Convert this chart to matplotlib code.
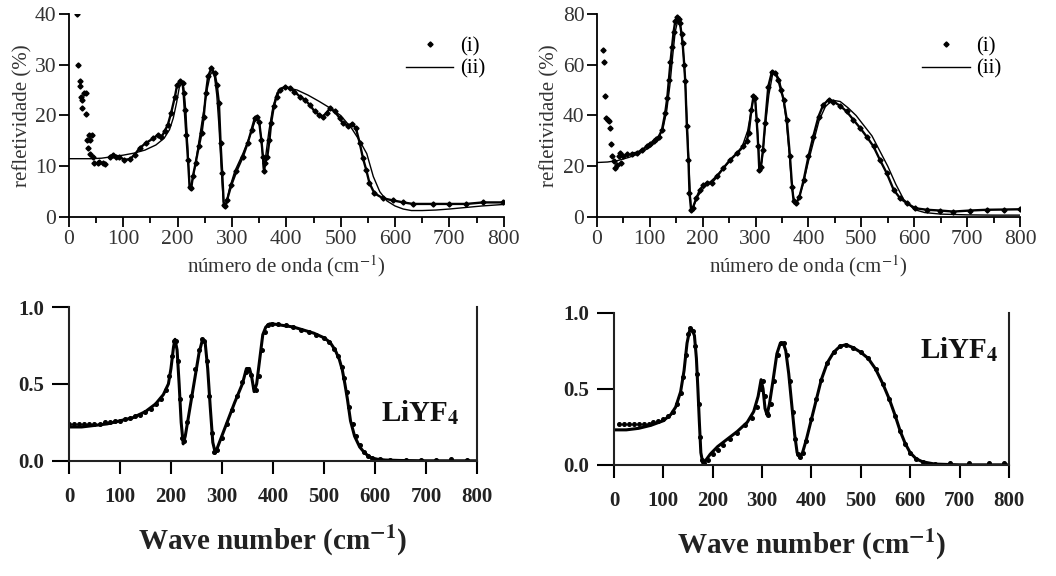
import numpy as np
import matplotlib.pyplot as plt
from matplotlib.ticker import MultipleLocator

plt.rcParams['font.family'] = ['Liberation Serif', 'DejaVu Serif']
plt.rcParams['mathtext.fontset'] = 'stix'

# top left: measured (i) and fit (ii)
tl_x_exp = [15, 16, 19.6, 21, 22, 24, 24.5, 28, 31, 32, 34, 35, 37, 38, 39, 42, 45, 47, 53, 56, 63, 67,
            75, 81, 87, 93, 102, 112, 121, 130, 142, 155, 164, 170, 176, 182, 188, 195, 199, 204, 209,
            211, 213, 216, 219, 222, 225, 228, 233, 239, 244, 248, 252, 256, 262, 268, 272, 276, 279,
            282, 285, 288, 291, 299, 308, 320, 329, 336, 342, 346, 350, 354, 357, 359, 361, 365, 369,
            372, 377, 382, 388, 397, 406, 415, 425, 434, 443, 452, 461, 467, 474, 480, 489, 498, 504,
            513, 521, 528, 535, 541, 547, 553, 562, 578, 596, 615, 633, 670, 700, 731, 762, 799]
tl_y_exp = [40, 30, 26.7, 25.8, 23.7, 23, 21.4, 24.4, 24.5, 20.3, 15.2, 13.6, 16.2, 12.5, 15.2, 16.2, 11.9,
            10.6, 10.6, 10.9, 10.6, 10.4, 11.9, 12.3, 11.9, 11.8, 11.3, 11.4, 12.3, 13.6, 14.6, 15.5, 16.2,
            15.7, 16.9, 18.2, 20.5, 23.7, 26, 26.7, 26.4, 24.4, 21.1, 16.2, 11.3, 6, 5.7, 8, 10.6, 13.9,
            16.5, 19.8, 24.4, 27.7, 29.3, 28.3, 26, 22.4, 14.6, 8.7, 2.4, 2.1, 3.4, 6.4, 9, 11.9, 14.6,
            17.2, 19.5, 19.8, 18.8, 15.2, 11.9, 9, 10.6, 11.9, 15.2, 18.5, 21.8, 23.7, 25, 25.6, 25.4,
            24.7, 23.7, 23.1, 22.1, 20.8, 20.1, 19.8, 20.5, 21.4, 20.8, 19.5, 18.5, 18, 18.4, 17.5, 14.6,
            11.6, 9.3, 6.7, 4.7, 3.7, 3.3, 2.9, 2.6, 2.6, 2.6, 2.6, 2.9, 2.9]
tl_x_fit = [0, 20, 40, 60, 80, 100, 120, 140, 160, 175, 185, 192, 198, 203, 207, 211, 215, 219, 222, 226,
            232, 240, 248, 255, 260, 264, 268, 272, 276, 280, 284, 288, 295, 305, 320, 335, 342, 347, 351,
            355, 358, 362, 368, 375, 383, 392, 400, 420, 440, 460, 480, 500, 520, 535, 548, 560, 572, 585,
            600, 615, 630, 650, 675, 700, 730, 760, 800]
tl_y_fit = [11.5, 11.5, 11.5, 11.6, 11.9, 12.2, 12.6, 13.2, 14.2, 15.5, 17.2, 19.5, 22.5, 25.5, 26.3, 25.5,
            21, 13, 6, 6.5, 10, 15.5, 21, 25.5, 28, 28.6, 27.5, 24, 18, 10, 3, 2, 5.5, 9, 12.5, 16.5, 18.8,
            19.2, 18, 14, 9.5, 12, 17, 21.5, 24.5, 25.5, 25.5, 25, 24, 22.8, 21.5, 20, 17.5, 15, 12.5, 8,
            5, 3.2, 2.2, 1.6, 1.3, 1.3, 1.4, 1.6, 1.9, 2.2, 2.5]

# top right
tr_x_exp = [10.7, 13, 15, 17.6, 20, 22.7, 25, 26.5, 27.7, 31.5, 34.6, 37.8, 41, 43, 45, 50, 57, 66, 76, 85,
            94, 100, 107, 112, 117, 123, 129, 133, 136, 139, 142, 145, 148, 152, 155, 157, 160, 162, 165,
            167, 170, 173, 175, 178, 181, 188, 195, 201, 208, 217, 227, 239, 252, 265, 277, 283, 287, 292,
            296, 299, 302, 305, 307, 310, 314, 318, 324, 331, 337, 343, 348, 353, 359, 365, 369, 372, 377,
            383, 391, 400, 409, 419, 428, 438, 447, 460, 472, 485, 498, 510, 523, 535, 548, 561, 573, 586,
            602, 624, 649, 674, 705, 737, 770, 800]
tr_y_exp = [65.6, 61, 47.5, 39, 38.3, 38, 35, 28.9, 23.9, 21.9, 19.3, 20.6, 23.9, 25.2, 21.2, 23.9, 24.9,
            25, 25.4, 26.4, 27.8, 28.8, 29.8, 30.6, 31.7, 34.4, 40.9, 47, 54, 61, 67, 73, 77, 78.7, 77.8,
            76.3, 72, 68.5, 60, 53.4, 35.7, 22.6, 9.4, 2.9, 3.5, 7.5, 10.8, 12.5, 13.4, 13.6, 16, 19.3,
            22.6, 25.2, 27.8, 30, 33, 42.2, 47.5, 46.8, 38.3, 27.8, 18.6, 19.9, 26.5, 37, 51.4, 57.3, 56.9,
            54, 50, 46.2, 38.3, 23.9, 12, 6.2, 5.5, 8.1, 14.7, 23.9, 31.7, 39.6, 44.2, 46.2, 45.5, 43.8,
            41.6, 38.3, 35, 31.7, 27.8, 22.6, 17.3, 10.8, 7.5, 5.5, 3.5, 2.9, 2.6, 2.2, 2.6, 2.9, 3, 3.1]
tr_x_fit = [0, 20, 40, 60, 80, 100, 115, 125, 132, 138, 143, 148, 153, 158, 163, 167, 171, 175, 178, 182,
            190, 200, 212, 225, 240, 260, 275, 285, 291, 296, 300, 304, 308, 312, 318, 325, 332, 338, 345,
            352, 358, 364, 369, 374, 380, 390, 400, 410, 420, 432, 445, 460, 475, 490, 505, 520, 535, 550,
            565, 580, 600, 620, 650, 700, 750, 800]
tr_y_fit = [21.5, 21.7, 22.3, 23.5, 25, 27.5, 30.5, 35, 42, 52, 63, 73, 77.5, 75, 66, 53, 35, 15, 3, 4, 8,
            11, 13.5, 16, 19.5, 24, 28, 34, 41, 47, 45, 33, 18, 22, 35, 48, 56, 57, 54, 47, 38, 24, 11, 5.5,
            6.5, 13, 22, 30, 38, 43.5, 46, 45.5, 43, 40, 36, 32, 26, 20, 13, 7, 3, 1.8, 1.2, 0.9, 0.8, 0.8]

# bottom left (LiYF4)
bl_x_dot = [0, 10, 20, 30, 40, 50, 60, 70, 80, 90, 100, 110, 120, 130, 140, 150, 160, 170, 180, 190, 197,
            202, 206, 210, 214, 218, 222, 226, 232, 240, 248, 255, 260, 265, 270, 275, 280, 285, 290, 300,
            310, 320, 330, 340, 347, 352, 357, 362, 367, 372, 378, 384, 390, 398, 410, 425, 440, 455, 470,
            485, 500, 510, 520, 528, 535, 540, 545, 550, 556, 563, 570, 578, 586, 595, 610, 630, 660, 690,
            720, 750, 780]
bl_y_dot = [0.24, 0.24, 0.24, 0.24, 0.24, 0.24, 0.24, 0.25, 0.25, 0.26, 0.26, 0.27, 0.28, 0.29, 0.3, 0.32,
            0.34, 0.37, 0.4, 0.46, 0.55, 0.68, 0.78, 0.78, 0.65, 0.4, 0.15, 0.13, 0.25, 0.42, 0.6, 0.72,
            0.79, 0.78, 0.65, 0.42, 0.18, 0.06, 0.07, 0.15, 0.24, 0.33, 0.42, 0.51, 0.58, 0.6, 0.56, 0.48,
            0.46, 0.55, 0.72, 0.84, 0.88, 0.89, 0.89, 0.88, 0.87, 0.85, 0.84, 0.82, 0.8, 0.77, 0.73, 0.68,
            0.61, 0.54, 0.45, 0.35, 0.24, 0.16, 0.1, 0.06, 0.03, 0.015, 0.01, 0.005, 0.005, 0.005, 0.005,
            0.012, 0.004]
bl_x_fit = [0, 25, 50, 75, 100, 125, 150, 170, 185, 195, 200, 205, 208, 212, 216, 220, 224, 228, 235, 245,
            255, 262, 267, 272, 277, 282, 287, 295, 310, 325, 340, 348, 354, 358, 363, 368, 374, 380, 386,
            393, 400, 420, 440, 460, 480, 500, 512, 522, 530, 536, 541, 546, 552, 560, 570, 580, 592, 605,
            620, 650, 700, 750, 800]
bl_y_fit = [0.22, 0.22, 0.23, 0.24, 0.26, 0.28, 0.32, 0.37, 0.43, 0.5, 0.6, 0.74, 0.79, 0.72, 0.5, 0.25,
            0.11, 0.16, 0.3, 0.5, 0.7, 0.79, 0.77, 0.6, 0.35, 0.12, 0.05, 0.12, 0.25, 0.38, 0.5, 0.6, 0.6,
            0.55, 0.45, 0.5, 0.66, 0.82, 0.87, 0.89, 0.89, 0.88, 0.87, 0.85, 0.83, 0.8, 0.77, 0.72, 0.66,
            0.59, 0.5, 0.4, 0.26, 0.16, 0.09, 0.05, 0.02, 0.01, 0.005, 0.002, 0.0, 0.0, 0.0]

# bottom right (LiYF4)
br_x_dot = [10, 20, 30, 40, 50, 60, 70, 80, 90, 100, 110, 120, 128, 135, 140, 145, 150, 155, 160, 165, 169,
            172, 175, 178, 183, 190, 200, 210, 220, 235, 250, 265, 280, 290, 297, 301, 305, 309, 313, 318,
            325, 332, 338, 344, 350, 356, 362, 367, 372, 377, 383, 390, 400, 410, 420, 432, 445, 458, 470,
            485, 500, 515, 530, 545, 558, 570, 580, 590, 600, 612, 625, 650, 680, 720, 760, 790]
br_y_dot = [0.27, 0.27, 0.27, 0.27, 0.27, 0.27, 0.27, 0.28, 0.29, 0.3, 0.32, 0.35, 0.4, 0.47, 0.58, 0.72,
            0.86, 0.9, 0.88, 0.78, 0.6, 0.4, 0.18, 0.03, 0.01, 0.03, 0.07, 0.1, 0.13, 0.17, 0.21, 0.26,
            0.31, 0.38, 0.5, 0.55, 0.45, 0.34, 0.33, 0.4, 0.55, 0.72, 0.8, 0.8, 0.72, 0.55, 0.35, 0.17,
            0.07, 0.05, 0.08, 0.16, 0.3, 0.43, 0.56, 0.67, 0.74, 0.78, 0.79, 0.77, 0.74, 0.7, 0.63, 0.53,
            0.43, 0.32, 0.22, 0.14, 0.08, 0.04, 0.02, 0.008, 0.01, 0.01, 0.01, 0.01]
br_x_fit = [0, 25, 50, 75, 100, 115, 125, 135, 142, 148, 153, 158, 163, 167, 170, 173, 176, 180, 186, 195,
            210, 230, 250, 270, 283, 292, 298, 302, 306, 310, 315, 322, 330, 337, 343, 348, 354, 360, 366,
            371, 376, 382, 390, 400, 410, 420, 432, 445, 458, 470, 485, 500, 515, 530, 545, 558, 570, 580,
            590, 600, 612, 625, 650, 700, 750, 800]
br_y_fit = [0.23, 0.23, 0.24, 0.26, 0.29, 0.33, 0.38, 0.48, 0.62, 0.8, 0.88, 0.89, 0.85, 0.7, 0.5, 0.28,
            0.08, 0.01, 0.03, 0.07, 0.12, 0.17, 0.22, 0.28, 0.35, 0.45, 0.56, 0.5, 0.37, 0.33, 0.4, 0.55,
            0.73, 0.8, 0.8, 0.75, 0.6, 0.4, 0.2, 0.08, 0.05, 0.08, 0.17, 0.3, 0.43, 0.56, 0.67, 0.74, 0.78,
            0.79, 0.77, 0.74, 0.7, 0.63, 0.53, 0.43, 0.32, 0.22, 0.14, 0.08, 0.04, 0.02, 0.005, 0.0, 0.0, 0.0]


fig = plt.figure(figsize=(10.56, 5.76), dpi=100)


def top_panel(rect, xe, ye, xf, yf, ymax, ystep, nscatter):
    ax = fig.add_axes(rect)
    # line through the dense part of the measured points
    ax.plot(xe[nscatter:], ye[nscatter:], '-', color='black', lw=1.7)
    ax.plot(xe, ye, linestyle='none', marker='D', ms=2.6, color='black', label='(i)')
    ax.plot(xf, yf, '-', color='black', lw=1.0, label='(ii)')
    ax.set_xlim(0, 800)
    ax.set_ylim(0, ymax)
    ax.spines['top'].set_visible(False)
    ax.spines['right'].set_visible(False)
    ax.spines['left'].set_linewidth(1.3)
    ax.spines['bottom'].set_linewidth(1.3)
    ax.xaxis.set_major_locator(MultipleLocator(100))
    ax.xaxis.set_minor_locator(MultipleLocator(50))
    ax.yaxis.set_major_locator(MultipleLocator(ystep))
    ax.tick_params(axis='both', which='major', direction='out', length=7, width=1.3,
                   labelsize=15.5, colors='black', labelcolor='#333333', pad=2)
    ax.tick_params(axis='x', which='minor', direction='out', length=4, width=1.3)
    ax.set_xlabel('número de onda (cm$^{-1}$)', fontsize=15, color='#333333', labelpad=3)
    ax.set_ylabel('refletividade (%)', fontsize=15, color='#333333', labelpad=2)
    ax.legend(loc='upper right', frameon=False, fontsize=15, handlelength=2.3,
              handletextpad=0.3, labelspacing=0.15, bbox_to_anchor=(1.0, 0.98))
    return ax


def bottom_panel(rect, xd, yd, xf, yf, tx, ty):
    ax = fig.add_axes(rect)
    ax.plot(xf, yf, '-', color='black', lw=2.2)
    ax.plot(xd, yd, linestyle='none', marker='o', ms=2.6, color='black')
    ax.set_xlim(0, 800)
    ax.set_ylim(0, 1.0)
    ax.spines['top'].set_visible(False)
    for s in ['left', 'bottom', 'right']:
        ax.spines[s].set_linewidth(1.5)
        ax.spines[s].set_color('#222222')
    ax.xaxis.set_major_locator(MultipleLocator(100))
    ax.set_yticks([0.0, 0.5, 1.0])
    ax.set_yticklabels(['0.0', '0.5', '1.0'])
    ax.tick_params(axis='x', direction='out', length=9, width=1.5, labelsize=15, pad=10)
    ax.tick_params(axis='y', direction='out', length=12, width=1.5, labelsize=15, pad=6)
    for lab in ax.get_xticklabels() + ax.get_yticklabels():
        lab.set_fontweight('bold')
        lab.set_color('#222222')
    ax.set_xlabel(r'Wave number (cm$^{\mathbf{-1}}$)', fontsize=21, fontweight='bold',
                  color='#222222', labelpad=12)
    ax.text(tx, ty, r'LiYF$_{\mathbf{4}}$', fontsize=21, fontweight='bold', color='#111111',
            ha='center', va='center')
    return ax


top_panel([0.0653, 0.623, 0.4117, 0.353], tl_x_exp, tl_y_exp, tl_x_fit, tl_y_fit, 40, 10, 22)
top_panel([0.5653, 0.623, 0.4006, 0.353], tr_x_exp, tr_y_exp, tr_x_fit, tr_y_fit, 80, 20, 17)
bottom_panel([0.0653, 0.2, 0.3864, 0.267], bl_x_dot, bl_y_dot, bl_x_fit, bl_y_fit, 688, 0.31)
bottom_panel([0.5814, 0.193, 0.374, 0.264], br_x_dot, br_y_dot, br_x_fit, br_y_fit, 700, 0.76)

fig.savefig('out.png', dpi=100)
